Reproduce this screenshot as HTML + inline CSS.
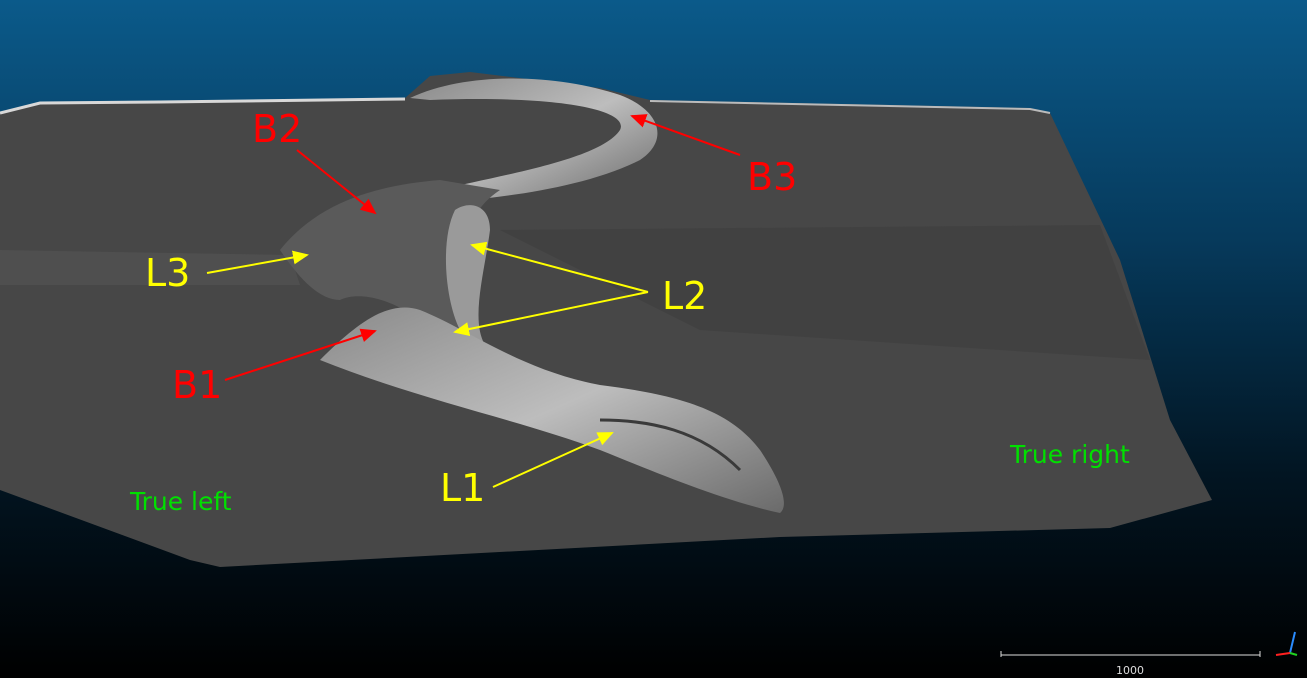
<!DOCTYPE html>
<html><head><meta charset="utf-8"><style>
html,body{margin:0;padding:0;width:1307px;height:678px;overflow:hidden;background:#000}
svg{display:block}
text{font-family:"DejaVu Sans","Liberation Sans",sans-serif}
</style></head><body>
<svg width="1307" height="678" viewBox="0 0 1307 678">
<defs>
<linearGradient id="bg" x1="0" y1="0" x2="0" y2="1">
<stop offset="0" stop-color="#0b5a8a"/><stop offset="0.35" stop-color="#063a5c"/><stop offset="0.7" stop-color="#021522"/><stop offset="1" stop-color="#000"/>
</linearGradient>
<linearGradient id="ridge" x1="0" y1="0" x2="1" y2="1">
<stop offset="0" stop-color="#8a8a8a"/><stop offset="0.5" stop-color="#bdbdbd"/><stop offset="1" stop-color="#6a6a6a"/>
</linearGradient>
<marker id="ar" markerWidth="16" markerHeight="14" refX="14" refY="7" orient="auto" markerUnits="userSpaceOnUse"><path d="M0,0 L16,7 L0,14 z" fill="#ff0000"/></marker>
<marker id="ay" markerWidth="16" markerHeight="14" refX="14" refY="7" orient="auto" markerUnits="userSpaceOnUse"><path d="M0,0 L16,7 L0,14 z" fill="#ffff00"/></marker>
</defs>
<rect width="1307" height="678" fill="url(#bg)"/>
<polygon fill="#474747" points="0,112 40,102 160,101 405,98 430,76 470,72 600,88 650,100 1030,108 1050,113 1120,260 1170,420 1212,500 1110,528 780,537 220,567 190,560 0,490"/>
<polygon fill="#555" opacity="0.6" points="0,250 290,255 300,285 0,285"/>
<polygon fill="#3e3e3e" opacity="0.6" points="500,230 1100,225 1150,360 700,330"/>
<polyline fill="none" stroke="#d8d8d8" stroke-width="3" points="0,113 40,103 160,102 405,99"/>
<polyline fill="none" stroke="#bbb" stroke-width="2" points="650,101 1030,109 1050,113"/>
<g>
<path d="M410,98 C470,70 560,75 620,95 C660,110 670,140 640,160 C590,185 520,195 470,200 L440,190 C500,175 600,160 620,130 C630,110 560,95 430,100 Z" fill="url(#ridge)"/>
<path d="M280,250 C320,200 380,185 440,180 L500,190 C470,210 460,240 470,280 C480,320 470,345 490,350 L430,330 C400,300 360,290 340,300 C320,300 300,280 280,250 Z" fill="#5a5a5a"/>
<path d="M455,210 C470,200 490,205 490,230 C485,270 470,320 485,345 L460,330 C445,300 440,240 455,210 Z" fill="#9a9a9a"/>
<path d="M320,360 C360,320 390,300 420,310 C470,330 520,370 600,385 C680,395 730,410 760,450 C780,480 790,505 780,513 C720,500 650,470 600,450 C520,420 420,400 320,360 Z" fill="url(#ridge)"/>
<path d="M600,420 C650,420 700,430 740,470" stroke="#3a3a3a" stroke-width="3" fill="none"/>
</g>
<g font-size="38">
<text x="252" y="142" fill="#ff0000">B2</text>
<text x="747" y="190" fill="#ff0000">B3</text>
<text x="172" y="398" fill="#ff0000">B1</text>
<text x="145" y="286" fill="#ffff00">L3</text>
<text x="662" y="309" fill="#ffff00">L2</text>
<text x="440" y="501" fill="#ffff00">L1</text>
</g>
<text x="1010" y="463" font-size="25" fill="#00e000">True right</text>
<text x="130" y="510" font-size="25" fill="#00e000">True left</text>
<g stroke-width="2">
<line x1="297" y1="150" x2="375" y2="213" stroke="#ff0000" marker-end="url(#ar)"/>
<line x1="740" y1="155" x2="632" y2="116" stroke="#ff0000" marker-end="url(#ar)"/>
<line x1="225" y1="380" x2="375" y2="331" stroke="#ff0000" marker-end="url(#ar)"/>
<line x1="207" y1="273" x2="307" y2="255" stroke="#ffff00" marker-end="url(#ay)"/>
<line x1="648" y1="292" x2="472" y2="245" stroke="#ffff00" marker-end="url(#ay)"/>
<line x1="648" y1="292" x2="455" y2="332" stroke="#ffff00" marker-end="url(#ay)"/>
<line x1="493" y1="487" x2="612" y2="433" stroke="#ffff00" marker-end="url(#ay)"/>
</g>
<g>
<line x1="1001" y1="655" x2="1260" y2="655" stroke="#ddd" stroke-width="1"/>
<line x1="1001" y1="651" x2="1001" y2="657" stroke="#ddd"/>
<line x1="1260" y1="651" x2="1260" y2="657" stroke="#ddd"/>
<text x="1130" y="674" font-size="11" fill="#ddd" text-anchor="middle">1000</text>
</g>
<g stroke-width="2">
<line x1="1290" y1="653" x2="1295" y2="632" stroke="#2a8cff"/>
<line x1="1290" y1="653" x2="1276" y2="655" stroke="#ff2020"/>
<line x1="1290" y1="653" x2="1297" y2="655" stroke="#20d020"/>
</g>
</svg>
</body></html>
